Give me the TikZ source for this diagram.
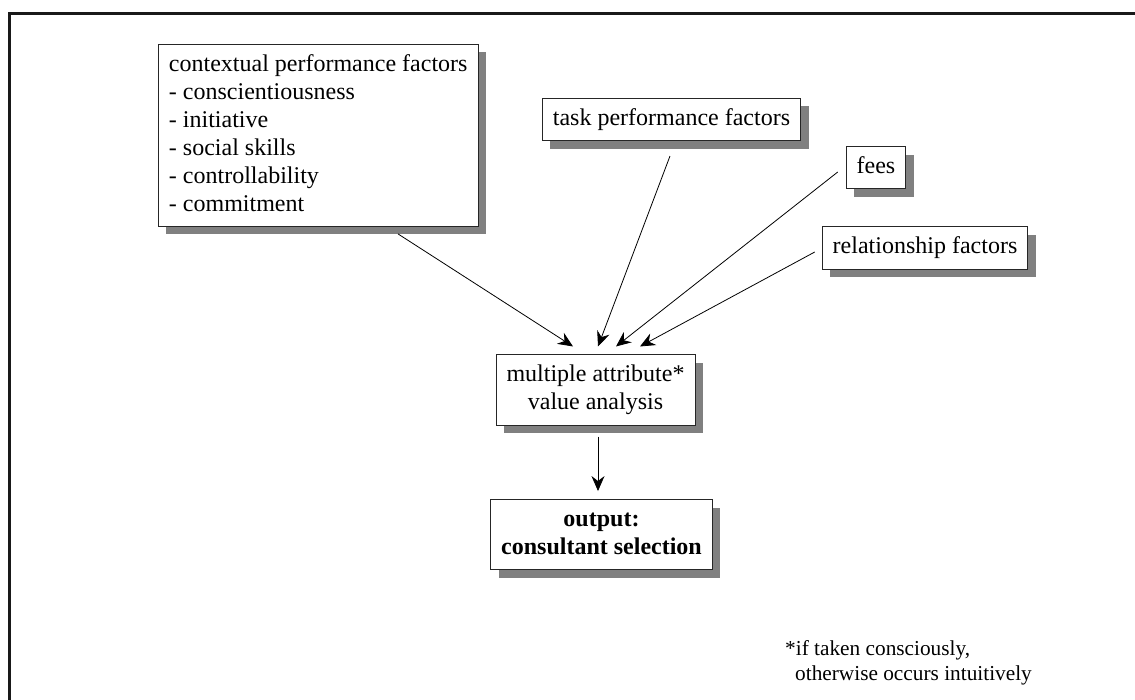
\documentclass[tikz,border=0pt]{standalone}
\usepackage{fontspec}
\setmainfont{Liberation Serif}
\usetikzlibrary{arrows.meta,shadows}

% strut giving every text line the same height and depth
\newcommand{\lstrut}{\rule[-5pt]{0pt}{22pt}}

\tikzset{
  factorbox/.style={draw=black!85, line width=0.9pt, fill=white,
    inner xsep=10.5pt, inner ysep=10pt,
    font=\fontsize{24}{28}\selectfont,
    drop shadow={shadow xshift=8pt, shadow yshift=-8pt, fill=black!50, opacity=1}},
  arr/.style={draw=black, line width=0.8pt,
    -{Stealth[length=15pt, width=13pt, inset=5pt]}},
  note/.style={inner sep=0pt, font=\fontsize{21.3}{25}\selectfont}
}

\begin{document}
\begin{tikzpicture}[x=1pt, y=-1pt]
  \useasboundingbox (0,0) rectangle (1135,699);

  % outer frame (left and top edges)
  \draw[line width=2.5pt, black!90] (9.7,720) -- (9.7,13.7) -- (1150,13.7);

  % input factors
  \node[factorbox, anchor=north west, align=left] (ctx) at (158,44)
    {\lstrut contextual performance factors\\
     \lstrut - conscientiousness\\
     \lstrut - initiative\\
     \lstrut - social skills\\
     \lstrut - controllability\\
     \lstrut - commitment};
  \node[factorbox] (task) at (671.5,119.5) {\lstrut task performance factors};
  \node[factorbox] (fees) at (876,167.5) {\lstrut fees};
  \node[factorbox] (rel) at (925,248) {\lstrut relationship factors};

  % analysis and result
  \node[factorbox, align=center] (mava) at (595.5,390)
    {\lstrut multiple attribute*\\ \lstrut value analysis};
  \node[factorbox, align=center, font=\fontsize{24}{28}\selectfont\bfseries] (out) at (601.5,534.5)
    {\lstrut output:\\ \lstrut consultant selection};

  % connectors
  \draw[arr] ([xshift=240pt, yshift=-7pt]ctx.south west) -- ([xshift=-22.5pt, yshift=8pt]mava.north);
  \draw[arr] ([xshift=-1.5pt, yshift=-15pt]task.south) -- ([xshift=2.5pt, yshift=8pt]mava.north);
  \draw[arr] ([xshift=-8pt, yshift=-4.5pt]fees.west) -- ([xshift=20.5pt, yshift=8pt]mava.north);
  \draw[arr] ([xshift=-7pt, yshift=-4pt]rel.west) -- ([xshift=44.5pt, yshift=8pt]mava.north);
  \draw[arr] ([xshift=2.5pt, yshift=-11pt]mava.south) -- ([xshift=-3.5pt, yshift=8pt]out.north);

  % footnote
  \node[note, anchor=base west] (fn1) at (785,655) {*if taken consciously,};
  \node[note, anchor=base west] (fn2) at (795,680) {otherwise occurs intuitively};
\end{tikzpicture}
\end{document}
